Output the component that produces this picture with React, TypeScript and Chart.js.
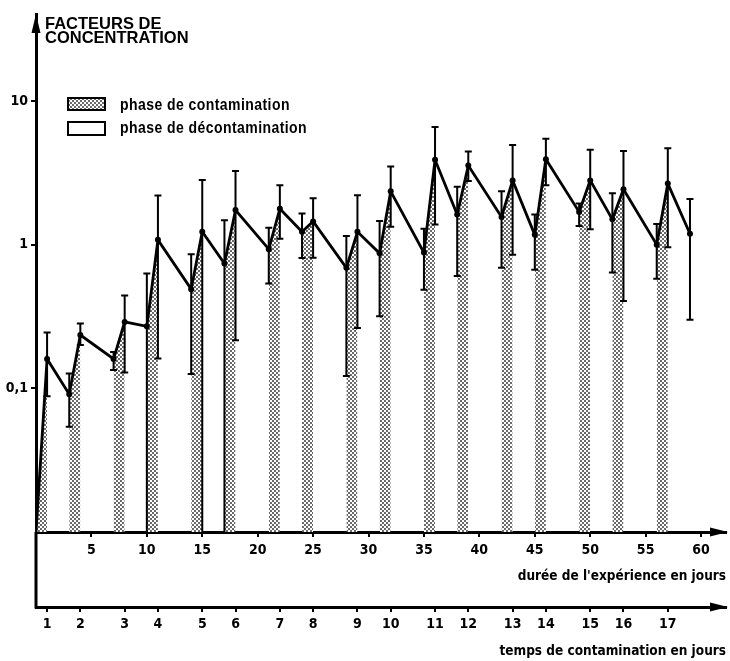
import React, { useEffect, useRef } from 'react';
import { Chart, registerables } from 'chart.js';

Chart.register(...registerables);

// ---- data ----
const days = [0, 1, 3, 4, 7, 8, 10, 11, 14, 15, 17, 18, 21, 22, 24, 25, 28, 29, 31, 32, 35, 36, 38, 39, 42, 43, 45, 46, 49, 50, 52, 53, 56, 57, 59];
const means = [0.01, 0.16, 0.091, 0.235, 0.16, 0.29, 0.27, 1.08, 0.49, 1.23, 0.74, 1.74, 0.93, 1.78, 1.23, 1.45, 0.69, 1.23, 0.87, 2.35, 0.88, 3.9, 1.62, 3.55, 1.56, 2.8, 1.17, 3.93, 1.69, 2.8, 1.5, 2.43, 1.0, 2.66, 1.19];
const errHigh = [null, 0.245, 0.127, 0.283, 0.179, 0.443, 0.63, 2.2, 0.857, 2.82, 1.48, 3.25, 1.31, 2.59, 1.65, 2.1, 1.15, 2.21, 1.46, 3.5, 1.29, 6.6, 2.53, 4.45, 2.35, 4.93, 1.62, 5.46, 1.93, 4.58, 2.28, 4.48, 1.39, 4.68, 2.08];
// 0 = lower bound below the axis (bar drawn down to the axis)
const errLow = [null, 0.088, 0.054, 0.2, 0.134, 0.129, 0, 0.161, 0.126, 0, 0, 0.216, 0.536, 1.1, 0.807, 0.81, 0.122, 0.263, 0.318, 1.33, 0.486, 1.38, 0.605, 2.77, 0.69, 0.85, 0.67, 2.59, 1.35, 1.28, 0.64, 0.405, 0.58, 0.96, 0.3];
const contaminationStarts = [0, 3, 7, 10, 14, 17, 21, 24, 28, 31, 35, 38, 42, 45, 49, 52, 56];
const contaminationTickLabels = ['1', '2', '3', '4', '5', '6', '7', '8', '9', '10', '11', '12', '13', '14', '15', '16', '17'];
const durationTicks = [5, 10, 15, 20, 25, 30, 35, 40, 45, 50, 55, 60];
const yTickValues = [0.1, 1, 10];
const yTickLabels = ['0,1', '1', '10'];

const titleLines = ['FACTEURS DE', 'CONCENTRATION'];
const legendLabels = ['phase de contamination', 'phase de décontamination'];
const xTitle = "durée de l'expérience en jours";
const x2Title = 'temps de contamination en jours';

const NARROW = "'Liberation Sans Narrow', 'DejaVu Sans Condensed', sans-serif";
const WIDE = "'Liberation Sans', Arial, sans-serif";

function makePattern(ctx: CanvasRenderingContext2D) {
  const c = document.createElement('canvas');
  c.width = 4;
  c.height = 4;
  const g = c.getContext('2d')!;
  g.fillStyle = '#ffffff';
  g.fillRect(0, 0, 4, 4);
  g.fillStyle = '#2a2a2a';
  g.beginPath();
  g.arc(1, 1, 0.95, 0, Math.PI * 2);
  g.fill();
  g.beginPath();
  g.arc(3, 3, 0.95, 0, Math.PI * 2);
  g.fill();
  return ctx.createPattern(c, 'repeat')!;
}

function scaledText(ctx: CanvasRenderingContext2D, text: string, x: number, y: number, sx: number) {
  ctx.save();
  ctx.translate(x, y);
  ctx.scale(sx, 1);
  ctx.fillText(text, 0, 0);
  ctx.restore();
}

export default function App() {
  const ref = useRef<HTMLCanvasElement>(null);

  useEffect(() => {
    const canvas = ref.current!;
    const ctx0 = canvas.getContext('2d')!;
    const pattern = makePattern(ctx0);

    const linePoints = days.map((d, i) => ({ x: d, y: means[i] }));
    const fillSets = contaminationStarts.map((s) => {
      const i = days.indexOf(s);
      return {
        type: 'line' as const,
        data: [
          { x: days[i], y: means[i] },
          { x: days[i + 1], y: means[i + 1] },
        ],
        borderWidth: 0,
        borderColor: 'rgba(0,0,0,0)',
        pointRadius: 0,
        fill: 'start',
        backgroundColor: pattern,
        order: 2,
        xAxisID: 'x',
        yAxisID: 'y',
      };
    });

    const errorBars = {
      id: 'errorBars',
      afterDatasetsDraw(chart: any) {
        const { ctx, chartArea } = chart;
        const xs = chart.scales.x;
        const ys = chart.scales.y;
        ctx.save();
        ctx.strokeStyle = '#000';
        ctx.lineWidth = 2;
        days.forEach((d, i) => {
          const hi = errHigh[i];
          const lo = errLow[i];
          if (hi == null || lo == null) return;
          const x = xs.getPixelForValue(d);
          const yTop = ys.getPixelForValue(hi);
          const yBot = lo > 0 ? ys.getPixelForValue(lo) : chartArea.bottom;
          ctx.beginPath();
          ctx.moveTo(x, yTop);
          ctx.lineTo(x, yBot);
          ctx.moveTo(x - 3.5, yTop);
          ctx.lineTo(x + 3.5, yTop);
          if (lo > 0) {
            ctx.moveTo(x - 3.5, yBot);
            ctx.lineTo(x + 3.5, yBot);
          }
          ctx.stroke();
        });
        ctx.restore();
      },
    };

    const decor = {
      id: 'decor',
      afterDraw(chart: any) {
        const { ctx, chartArea } = chart;
        const x2 = chart.scales.x2;
        const xs = chart.scales.x;
        const left = chartArea.left;
        ctx.save();
        ctx.fillStyle = '#000';
        ctx.strokeStyle = '#000';
        // y axis extension down to the second axis
        ctx.lineWidth = 3;
        ctx.beginPath();
        ctx.moveTo(left, chartArea.bottom);
        ctx.lineTo(left, x2.top + 1.5);
        ctx.stroke();
        // arrow heads
        const tipY = chartArea.top;
        ctx.beginPath();
        ctx.moveTo(left, tipY);
        ctx.lineTo(left - 4.5, tipY + 19);
        ctx.lineTo(left + 4.5, tipY + 19);
        ctx.closePath();
        ctx.fill();
        [xs.top, x2.top].forEach((yy: number) => {
          ctx.beginPath();
          ctx.moveTo(chartArea.right + 2, yy);
          ctx.lineTo(chartArea.right - 16, yy - 4.5);
          ctx.lineTo(chartArea.right - 16, yy + 4.5);
          ctx.closePath();
          ctx.fill();
        });
        // title
        ctx.font = `bold 16.5px ${WIDE}`;
        ctx.textBaseline = 'alphabetic';
        ctx.textAlign = 'left';
        ctx.fillText(titleLines[0], 45, 28.5);
        ctx.fillText(titleLines[1], 45, 42.5);
        // legend
        ctx.lineWidth = 2;
        ctx.fillStyle = pattern;
        ctx.fillRect(68, 98, 37, 12);
        ctx.strokeRect(68, 98, 37, 12);
        ctx.fillStyle = '#fff';
        ctx.fillRect(68, 122, 37, 13);
        ctx.strokeRect(68, 122, 37, 13);
        ctx.fillStyle = '#000';
        ctx.font = `bold 16.5px ${WIDE}`;
        (ctx as any).letterSpacing = '0.5px';
        scaledText(ctx, legendLabels[0], 120, 110, 0.85);
        scaledText(ctx, legendLabels[1], 120, 133, 0.85);
        ctx.restore();
      },
    };

    const tickFont = { family: NARROW, size: 14, weight: 'bold' as const };
    const titleFont = { family: NARROW, size: 13.5, weight: 'bold' as const };

    const chart = new Chart(canvas, {
      type: 'line',
      data: {
        datasets: [
          {
            type: 'line',
            data: linePoints,
            borderColor: '#000',
            borderWidth: 2.8,
            pointRadius: (c: any) => (c.dataIndex === 0 ? 0 : 3),
            pointBackgroundColor: '#000',
            pointBorderWidth: 0,
            fill: false,
            tension: 0,
            order: 0,
            xAxisID: 'x',
            yAxisID: 'y',
          } as any,
          ...(fillSets as any[]),
        ],
      },
      options: {
        animation: false,
        responsive: false,
        devicePixelRatio: 1,
        layout: { padding: { top: 14, right: 3, left: 0, bottom: 0 } },
        plugins: { legend: { display: false }, tooltip: { enabled: false } },
        scales: {
          x: {
            type: 'linear',
            position: 'bottom',
            min: 0,
            max: 62.25,
            bounds: 'data',
            afterBuildTicks: (s: any) => {
              s.ticks = durationTicks.map((v) => ({ value: v }));
            },
            afterFit: (s: any) => {
              s.height = 75;
            },
            ticks: { autoSkip: false, maxRotation: 0, color: '#000', font: tickFont, padding: 5 },
            grid: { drawOnChartArea: false, drawTicks: true, tickLength: 5, color: '#000', lineWidth: 2 },
            border: { display: true, color: '#000', width: 3 },
            title: {
              display: true,
              text: xTitle,
              align: 'end',
              color: '#000',
              font: titleFont,
              padding: { top: 0, bottom: 22 },
            },
          },
          x2: {
            type: 'linear',
            position: 'bottom',
            min: 0,
            max: 62.25,
            bounds: 'data',
            afterBuildTicks: (s: any) => {
              s.ticks = contaminationStarts.map((v) => ({ value: v + 1 }));
            },
            afterFit: (s: any) => {
              s.height = 54;
            },
            ticks: {
              autoSkip: false,
              maxRotation: 0,
              color: '#000',
              font: tickFont,
              padding: 4,
              callback: (_v: any, i: number) => contaminationTickLabels[i],
            },
            grid: { drawOnChartArea: false, drawTicks: true, tickLength: 5, color: '#000', lineWidth: 2 },
            border: { display: true, color: '#000', width: 3 },
            title: {
              display: true,
              text: x2Title,
              align: 'end',
              color: '#000',
              font: titleFont,
              padding: { top: 0, bottom: 1 },
            },
          },
          y: {
            type: 'logarithmic',
            position: 'left',
            min: 0.01,
            max: 40.3,
            bounds: 'data',
            afterBuildTicks: (s: any) => {
              s.ticks = yTickValues.map((v) => ({ value: v }));
            },
            afterFit: (s: any) => {
              s.width = 36;
            },
            ticks: {
              autoSkip: false,
              color: '#000',
              padding: 3,
              font: { family: NARROW, size: 14, weight: 'bold' },
              callback: (_v: any, i: number) => yTickLabels[i],
            },
            grid: { drawOnChartArea: false, drawTicks: true, tickLength: 5, color: '#000', lineWidth: 2 },
            border: { display: true, color: '#000', width: 3 },
          },
        },
      } as any,
      plugins: [errorBars, decor],
    });

    return () => chart.destroy();
  }, []);

  return (
    <canvas
      ref={ref}
      width={730}
      height={661}
      style={{ position: 'fixed', left: 0, top: 0, display: 'block', background: '#fff' }}
    />
  );
}
